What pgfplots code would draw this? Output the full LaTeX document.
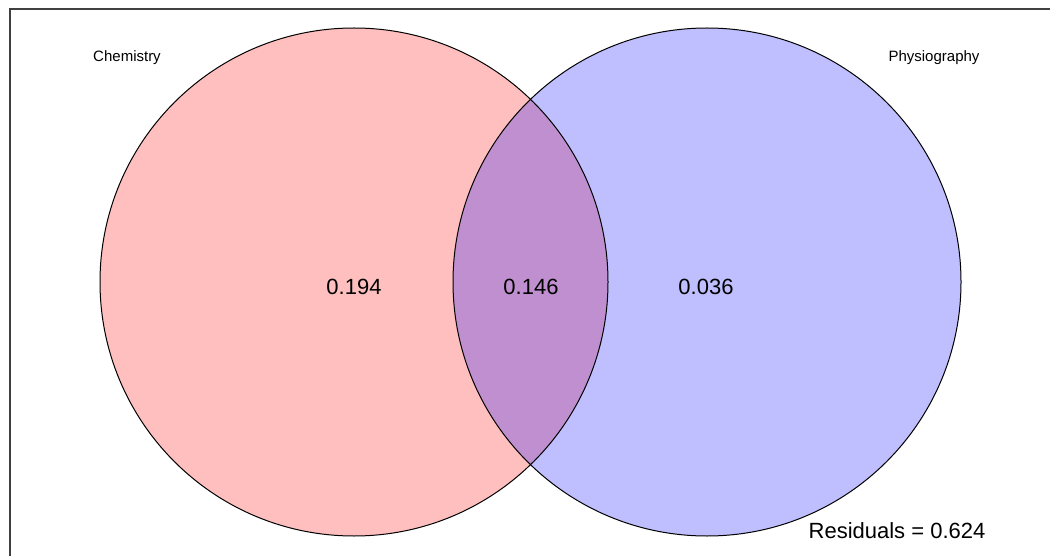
\documentclass[border=0pt]{standalone}
\usepackage{pgfplots}
\pgfplotsset{compat=1.18}
\usepackage{fontspec}
\setmainfont{Liberation Sans}
\definecolor{framegray}{RGB}{64,64,64}
\begin{document}
\begin{tikzpicture}
\begin{axis}[
  scale only axis, width=1050pt, height=556pt,
  xmin=0, xmax=1050, ymin=0, ymax=556, y dir=reverse,
  hide axis, clip=true,
]
% frame
\draw[framegray, line width=2pt] (axis cs:10,556) -- (axis cs:10,9) -- (axis cs:1050,9);
% circles
\fill[red, fill opacity=0.25] (axis cs:354,282) circle [radius=254];
\fill[blue, fill opacity=0.25] (axis cs:707,282) circle [radius=254];
\draw[black, line width=1pt] (axis cs:354,282) circle [radius=254];
\draw[black, line width=1pt] (axis cs:707,282) circle [radius=254];
% labels
\node[font=\fontsize{15}{18}\selectfont] at (axis cs:127,58) {Chemistry};
\node[font=\fontsize{15}{18}\selectfont] at (axis cs:934,58) {Physiography};
\node[font=\fontsize{22}{26}\selectfont] at (axis cs:354,287) {0.194};
\node[font=\fontsize{22}{26}\selectfont] at (axis cs:531,287) {0.146};
\node[font=\fontsize{22}{26}\selectfont] at (axis cs:706,287) {0.036};
\node[font=\fontsize{22}{26}\selectfont] at (axis cs:897,531) {Residuals = 0.624};
\end{axis}
\pgfresetboundingbox
\path (current axis.south west) rectangle (current axis.north east);
\end{tikzpicture}
\end{document}
